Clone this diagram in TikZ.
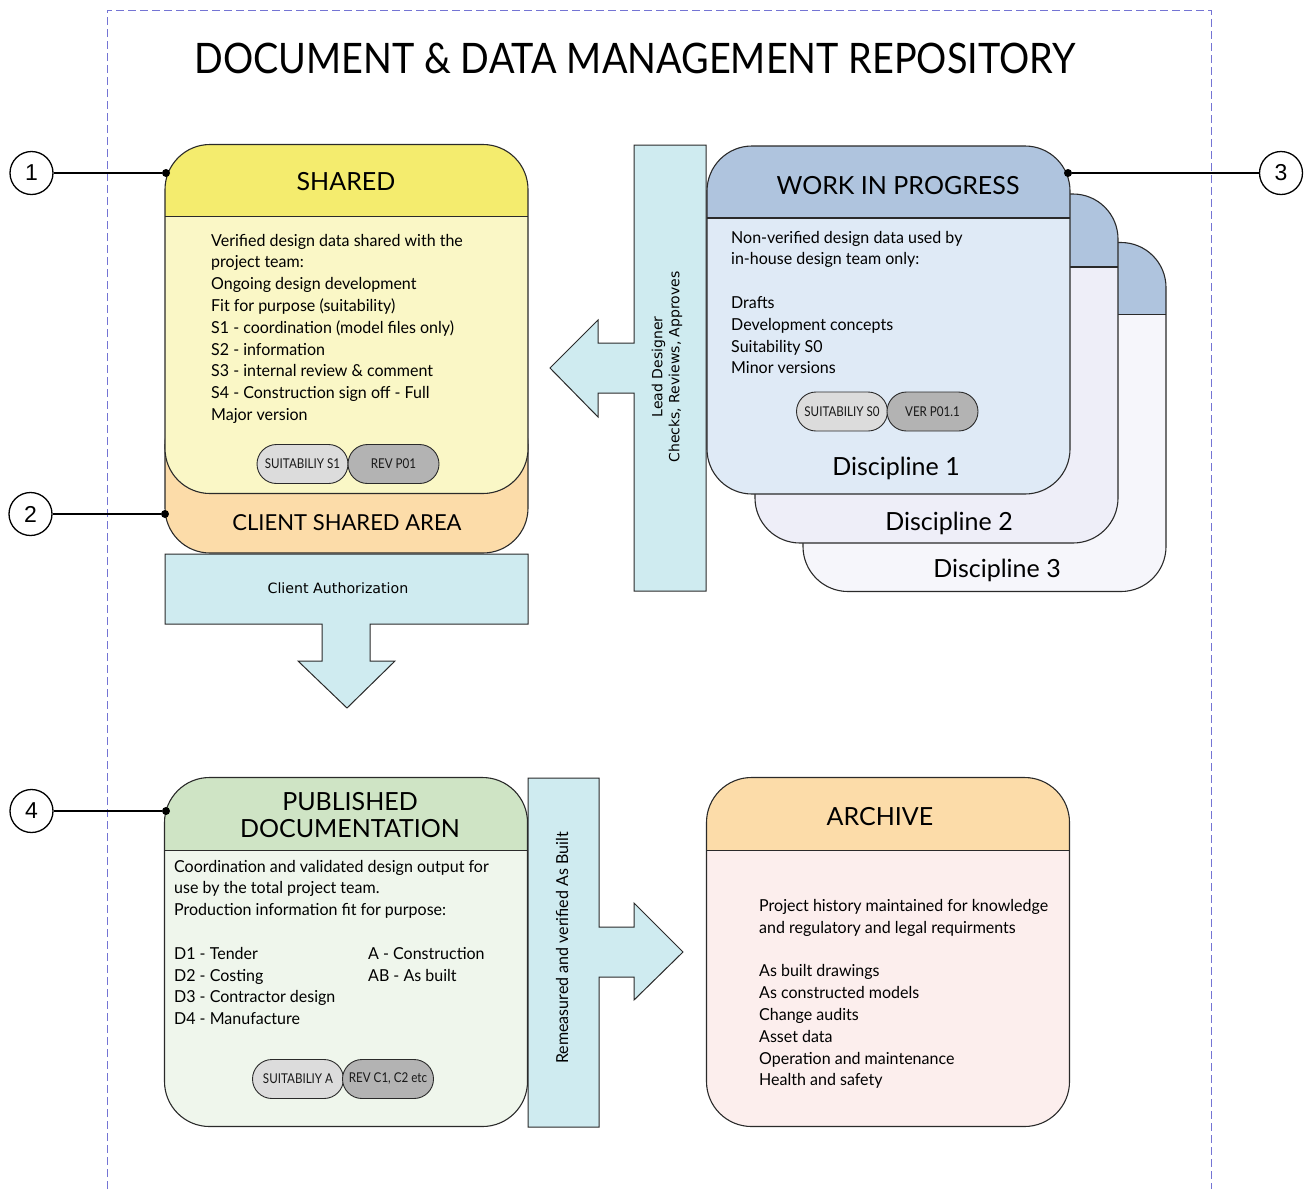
\documentclass[tikz,border=0pt]{standalone}
\usepackage{fontspec}
\setmainfont{Lato}[FakeStretch=0.97]
\newfontfamily\headfont{Lato}
\newfontfamily\titlefont{Lato}[FakeStretch=0.9]
\newfontfamily\pillfont{Lato}[FakeStretch=0.86]
\newfontfamily\lucfont{DejaVu Sans}
\newfontfamily\numfont{Liberation Sans}

% palette
\definecolor{frameblue}{HTML}{7474D4}
\definecolor{shhdr}{HTML}{F4EC6E}
\definecolor{shbody}{HTML}{FAF7C6}
\definecolor{orangearea}{HTML}{FCDCA9}
\definecolor{wiphdr}{HTML}{AFC4DE}
\definecolor{wipbodyA}{HTML}{DFEAF6}
\definecolor{wipbodyB}{HTML}{EEEEF8}
\definecolor{wipbodyC}{HTML}{F6F6FB}
\definecolor{arrowcyan}{HTML}{CFEBF0}
\definecolor{pubhdr}{HTML}{CFE4C5}
\definecolor{pubbody}{HTML}{EFF6EC}
\definecolor{archhdr}{HTML}{FCDCA9}
\definecolor{archbody}{HTML}{FCEEED}
\definecolor{pilllight}{HTML}{DCDCDC}
\definecolor{pilldark}{HTML}{B3B3B3}
\definecolor{edge}{HTML}{2A2A2A}

\begin{document}
\begin{tikzpicture}[x=1pt,y=-1pt,
  frame/.style={draw=frameblue, line width=1pt, dash pattern=on 8pt off 4pt},
  card/.style={draw=edge, line width=1.1pt, rounded corners=45pt,
    minimum width=363pt, inner sep=0pt, outer sep=0pt},
  headed/.style 2 args={path picture={
    \fill[#1, sharp corners] (path picture bounding box.north west) rectangle
      ([yshift=-#2]path picture bounding box.north east);
    \draw[edge, line width=1.6pt, sharp corners] ([yshift=-#2]path picture bounding box.north west) --
      ([yshift=-#2]path picture bounding box.north east);}},
  hdrtext/.style={font=\headfont\fontsize{25}{28}\selectfont, inner sep=0pt, anchor=base},
  % multi-line text: the base anchor sits on the last line
  bodytext/.style={font=\fontsize{16.5}{21.8}\selectfont, align=left, inner sep=0pt, anchor=base west},
  pill/.style={draw=edge, line width=0.9pt, rounded corners=19.5pt, minimum width=91pt,
    minimum height=39pt, inner sep=0pt, text=black!90, font=\pillfont\fontsize{13.5}{14}\selectfont},
  flowarrow/.style={draw=edge, line width=1pt, fill=arrowcyan},
  numcircle/.style={circle, draw=black, line width=1.3pt, minimum size=43pt, inner sep=0pt,
    fill=white, font=\numfont\fontsize{23}{23}\selectfont},
  pin/.style={circle, fill=black, minimum size=8pt, inner sep=0pt},
  leader/.style={draw=black, line width=1.3pt}
]
\useasboundingbox (0,0) rectangle (1313,1189);

% repository frame
\draw[frame] (107,1189) -- (107,10) -- (1211,10) -- (1211,1189);

\node[font=\titlefont\fontsize{42}{46}\selectfont, inner sep=0pt, anchor=base] (title) at (635,73)
  {DOCUMENT \& DATA MANAGEMENT REPOSITORY};

% client shared area sits behind the shared card
\node[card, fill=orangearea, minimum height=153pt] (client) at (346.5,476.5) {};
\node[hdrtext, font=\headfont\fontsize{22}{24}\selectfont] (clientlbl) at (347,530) {CLIENT SHARED AREA};

% shared card
\node[card, fill=shbody, headed={shhdr}{72pt}, minimum height=349pt] (shared) at (346.5,319) {};
\node[hdrtext] (sharedlbl) at (346,190) {SHARED};
\node[bodytext] (sharedtxt) at (211,420.4) {Verified design data shared with the\\
project team:\\
Ongoing design development\\
Fit for purpose (suitability)\\
S1 - coordination (model files only)\\
S2 - information\\
S3 - internal review \& comment\\
S4 - Construction sign off - Full\\
Major version};
\node[pill, fill=pilllight] (shpillA) at (302.5,464) {SUITABILIY S1};
\node[pill, fill=pilldark] (shpillB) at (393.5,464) {REV P01};

% client authorization arrow
\draw[flowarrow] (165,554) -- (528,554) -- (528,624) -- (370,624) -- (370,661) -- (395,661)
  -- (347,708) -- (298,661) -- (322,661) -- (322,624) -- (165,624) -- cycle;
\node[font=\lucfont\fontsize{14.2}{16}\selectfont, inner sep=0pt, anchor=base] (authlbl) at (338,593)
  {Client Authorization};

% lead designer arrow
\draw[flowarrow] (706,145) -- (634,145) -- (634,343) -- (598,343) -- (598,320) -- (550,368)
  -- (598,417) -- (598,393) -- (634,393) -- (634,591) -- (706,591) -- cycle;
\node[font=\lucfont\fontsize{14}{17}\selectfont, align=center, rotate=90, inner sep=0pt] (leadlbl)
  at (667,367) {Lead Designer\\Checks, Reviews, Approves};

% work in progress stack
\node[card, fill=wipbodyC, headed={wiphdr}{72pt}, minimum height=349pt] (disc3) at (984.5,417) {};
\node[card, fill=wipbodyB, headed={wiphdr}{73pt}, minimum height=349pt] (disc2) at (936.5,368.5) {};
\node[card, fill=wipbodyA, headed={wiphdr}{72pt}, minimum height=348pt] (disc1) at (888.5,320) {};
\node[hdrtext] (wiplbl) at (898,194) {WORK IN PROGRESS};
\node[bodytext] (wiptxt) at (731,373.8) {Non-verified design data used by\\
in-house design team only:\\[21.8pt]
Drafts\\
Development concepts\\
Suitability S0\\
Minor versions};
\node[pill, fill=pilllight] (wippillA) at (842,411.5) {SUITABILIY S0};
\node[pill, fill=pilldark] (wippillB) at (932.5,411.5) {VER P01.1};
\node[hdrtext] (disc1lbl) at (896,475) {Discipline 1};
\node[hdrtext] (disc2lbl) at (949,530) {Discipline 2};
\node[hdrtext] (disc3lbl) at (997,577) {Discipline 3};

% published documentation card
\node[card, fill=pubbody, headed={pubhdr}{73pt}, minimum height=349pt] (pub) at (346,952) {};
\node[hdrtext, align=center, font=\headfont\fontsize{25}{27}\selectfont] (publbl) at (350,837)
  {PUBLISHED\\DOCUMENTATION};
\node[bodytext] (pubtxt) at (174,1024.6) {Coordination and validated design output for\\
use by the total project team.\\
Production information fit for purpose:\\[21.8pt]
D1 - Tender\\
D2 - Costing\\
D3 - Contractor design\\
D4 - Manufacture};
\node[bodytext] (pubtxtB) at (368,981) {A - Construction\\
AB - As built};
\node[pill, fill=pilllight] (pubpillA) at (298,1079) {SUITABILIY A};
\node[pill, fill=pilldark] (pubpillB) at (388,1079) {REV C1, C2 etc};

% as-built arrow
\draw[flowarrow] (528,778) -- (599,778) -- (599,927) -- (634,927) -- (634,903) -- (683,952)
  -- (634,1000) -- (634,977) -- (599,977) -- (599,1127) -- (528,1127) -- cycle;
\node[font=\fontsize{16.5}{18}\selectfont, rotate=90, inner sep=0pt] (asbuiltlbl) at (562,948)
  {Remeasured and verified As Built};

% archive card
\node[card, fill=archbody, headed={archhdr}{73pt}, minimum height=349pt] (archive) at (888,952) {};
\node[hdrtext] (archlbl) at (880,825) {ARCHIVE};
\node[bodytext] (archtxt) at (759,1085.9) {Project history maintained for knowledge\\
and regulatory and legal requirments\\[21.8pt]
As built drawings\\
As constructed models\\
Change audits\\
Asset data\\
Operation and maintenance\\
Health and safety};

% numbered callouts
\node[pin] (pinA) at (166,173) {};
\node[pin] (pinB) at (165,514) {};
\node[pin] (pinC) at (1068,173) {};
\node[pin] (pinD) at (166,811) {};
\node[numcircle] (numA) at (31.5,173) {1};
\node[numcircle] (numB) at (30.5,514) {2};
\node[numcircle] (numC) at (1281,173) {3};
\node[numcircle] (numD) at (31.5,811) {4};
\draw[leader] (numA) -- (pinA);
\draw[leader] (numB) -- (pinB);
\draw[leader] (numC) -- (pinC);
\draw[leader] (numD) -- (pinD);
\end{tikzpicture}
\end{document}
